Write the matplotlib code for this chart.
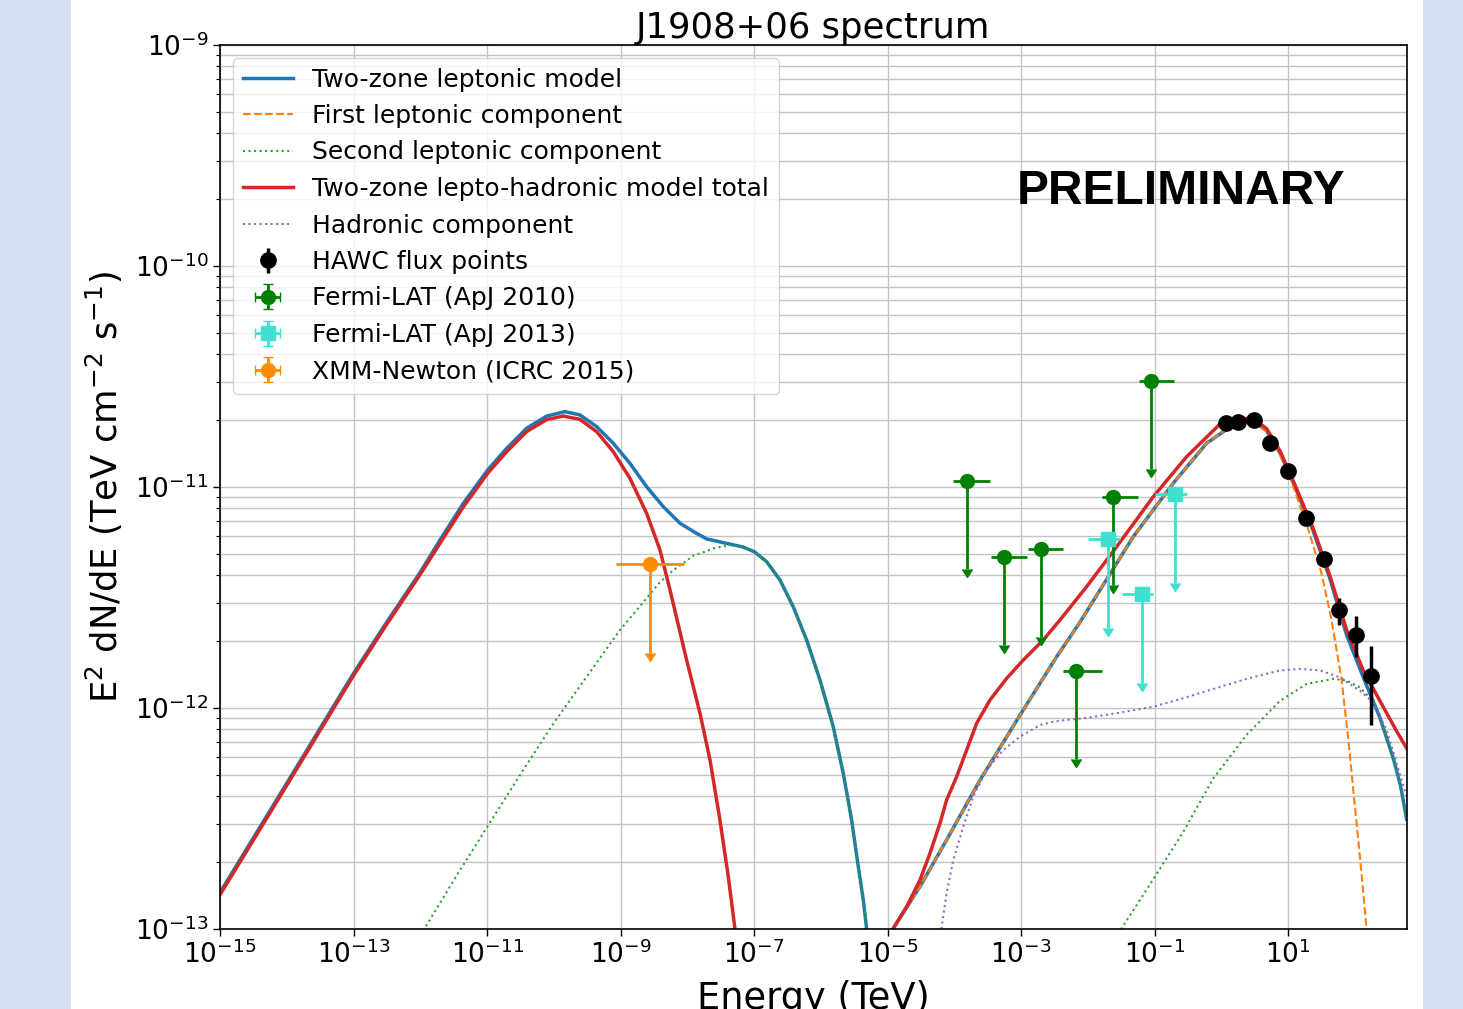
import numpy as np
import matplotlib
matplotlib.use("Agg")
import matplotlib.pyplot as plt
from matplotlib.patches import Rectangle
from matplotlib.ticker import FixedLocator, NullLocator, LogLocator

# ---------------- data (log10 values) ----------------
# Two-zone leptonic model (blue)
blue_low_logE = [-15.0, -14.0, -13.0, -12.5, -12.0, -11.705, -11.356, -10.991, -10.706, -10.407, -10.107,
                 -9.833, -9.608, -9.358, -9.11, -8.86, -8.61, -8.361, -8.111, -7.861, -7.711, -7.412,
                 -7.162, -6.997, -6.813, -6.613, -6.414, -6.214, -6.014, -5.815, -5.665, -5.54,
                 -5.44, -5.365, -5.315, -5.27]
blue_low_logF = [-12.835, -12.34, -11.843, -11.61, -11.385, -11.24, -11.074, -10.923, -10.825, -10.734, -10.679,
                 -10.659, -10.674, -10.727, -10.802, -10.893, -10.999, -11.089, -11.164, -11.21, -11.235, -11.255,
                 -11.272, -11.293, -11.338, -11.421, -11.542, -11.692, -11.873, -12.085, -12.296, -12.507,
                 -12.718, -12.869, -13.0, -13.13]
blue_high_logE = [-5.0, -4.916, -4.516, -4.117, -3.617, -2.993, -2.469, -2.12, -1.322, -0.723, -0.223,
                  0.176, 0.35, 0.472, 0.676, 0.875, 1.075, 1.374, 1.624, 1.874, 2.123, 2.373,
                  2.573, 2.68, 2.773]
blue_high_logF = [-13.04, -12.997, -12.808, -12.597, -12.326, -12.02, -11.768, -11.612, -11.225, -10.983, -10.802,
                  -10.719, -10.700, -10.702, -10.745, -10.845, -10.98, -11.2, -11.415, -11.67, -11.861, -12.044,
                  -12.228, -12.35, -12.503]

# First leptonic component (orange dashed)
first_logE = [-5.0, -4.916, -4.516, -4.117, -3.617, -2.993, -2.469, -2.12, -1.322, -0.723, -0.223,
              0.176, 0.35, 0.472, 0.676, 0.875, 1.048, 1.298, 1.497, 1.647, 1.797, 1.897,
              1.997, 2.097, 2.172, 2.19]
first_logF = [-13.04, -12.997, -12.808, -12.597, -12.326, -12.02, -11.768, -11.612, -11.225, -10.983, -10.802,
              -10.719, -10.700, -10.705, -10.75, -10.855, -10.975, -11.19, -11.39, -11.6, -11.87, -12.136,
              -12.442, -12.748, -13.0, -13.07]

# Second leptonic component (green dotted)
second_low_logE = [-12.0, -11.94, -11.5, -11.015, -10.5, -10.015, -9.5, -9.015, -8.71, -8.51, -8.41,
                   -8.21, -8.06, -7.91, -7.71, -7.61, -7.36, -7.2, -6.997, -6.813, -6.613, -6.414,
                   -6.214, -6.014, -5.815, -5.665, -5.54, -5.44, -5.365, -5.315, -5.27]
second_low_logF = [-13.03, -13.0, -12.78, -12.546, -12.30, -12.074, -11.855, -11.649, -11.54, -11.466, -11.43,
                   -11.376, -11.345, -11.31, -11.29, -11.278, -11.263, -11.27, -11.293, -11.338, -11.421, -11.542,
                   -11.692, -11.873, -12.085, -12.296, -12.507, -12.718, -12.869, -13.0, -13.13]
second_high_logE = [-1.55, -1.496, -0.997, -0.572, -0.123, 0.376, 0.875, 1.274, 1.674, 1.874, 2.073,
                    2.273, 2.373, 2.573, 2.68, 2.773]
second_high_logF = [-13.05, -12.997, -12.763, -12.56, -12.319, -12.121, -11.968, -11.891, -11.868, -11.876, -11.907,
                    -11.968, -12.044, -12.228, -12.35, -12.503]

# Two-zone lepto-hadronic model total (red)
red_low_logE = [-15.0, -14.0, -13.0, -12.5, -12.0, -11.705, -11.356, -10.991, -10.706, -10.407, -10.107,
                -9.858, -9.608, -9.358, -9.11, -8.86, -8.61, -8.41, -8.26, -8.011, -7.811, -7.661,
                -7.512, -7.387, -7.287, -7.26]
red_low_logF = [-12.845, -12.35, -11.853, -11.62, -11.395, -11.255, -11.09, -10.938, -10.84, -10.749, -10.695,
                -10.679, -10.694, -10.75, -10.84, -10.961, -11.119, -11.285, -11.466, -11.783, -12.024, -12.235,
                -12.507, -12.763, -13.0, -13.08]
red_high_logE = [-4.95, -4.916, -4.716, -4.516, -4.367, -4.217, -4.117, -3.967, -3.817, -3.667, -3.468,
                 -3.218, -2.969, -2.669, -2.42, -2.02, -1.57, -1.022, -0.522, -0.023, 0.251, 0.476,
                 0.676, 0.875, 1.075, 1.374, 1.624, 1.874, 2.123, 2.373, 2.623, 2.773]
red_high_logF = [-13.02, -12.997, -12.899, -12.778, -12.658, -12.522, -12.416, -12.311, -12.19, -12.069, -11.964,
                 -11.866, -11.783, -11.692, -11.602, -11.451, -11.27, -11.044, -10.863, -10.715, -10.69, -10.69,
                 -10.736, -10.836, -10.973, -11.188, -11.402, -11.647, -11.83, -11.968, -12.105, -12.182]

# Hadronic component (purple dotted)
had_logE = [-4.21, -4.192, -4.117, -4.017, -3.868, -3.718, -3.518, -3.268, -3.019, -2.719, -2.52,
            -2.32, -2.07, -1.5, -1.022, -0.622, -0.123, 0.376, 0.875, 1.174, 1.474, 1.773,
            2.073, 2.273, 2.473, 2.773]
had_logF = [-13.05, -12.99, -12.838, -12.688, -12.537, -12.401, -12.281, -12.19, -12.13, -12.077, -12.062,
            -12.054, -12.047, -12.02, -11.994, -11.96, -11.914, -11.868, -11.83, -11.823, -11.83, -11.861,
            -11.922, -11.975, -12.1, -12.4]

# HAWC flux points
hawc_E = [1.17, 1.78, 3.06, 5.32, 9.98, 18.4, 34.3, 58.1, 103.0, 173.0]
hawc_F = [1.95e-11, 1.97e-11, 2.00e-11, 1.58e-11, 1.18e-11, 7.21e-12, 4.73e-12, 2.77e-12, 2.13e-12, 1.39e-12]
hawc_err_lo = [0.4e-12, 0.35e-12, 0.35e-12, 0.3e-12, 0.25e-12, 0.2e-12, 0.2e-12, 0.39e-12, 0.43e-12, 0.55e-12]
hawc_err_hi = [0.4e-12, 0.35e-12, 0.35e-12, 0.3e-12, 0.25e-12, 0.2e-12, 0.2e-12, 0.39e-12, 0.47e-12, 0.51e-12]

# Fermi-LAT (ApJ 2010) upper limits
f10_logE = [-3.817, -3.258, -2.709, -2.172, -1.621, -1.061]
f10_logElo = [-4.017, -3.458, -2.903, -2.37, -1.795, -1.236]
f10_logEhi = [-3.468, -2.909, -2.371, -1.795, -1.25, -0.712]
f10_logF = [-10.973, -11.315, -11.281, -11.833, -11.044, -10.52]
f10_logFlim = [-11.371, -11.715, -11.677, -12.232, -11.443, -10.92]

# Fermi-LAT (ApJ 2013) upper limits
f13_logE = [-1.696, -1.198, -0.699]
f13_logElo = [-1.997, -1.496, -0.997]
f13_logEhi = [-1.522, -1.022, -0.522]
f13_logF = [-11.235, -11.484, -11.033]
f13_logFlim = [-11.64, -11.886, -11.433]

# XMM-Newton (ICRC 2015) upper limit
xmm_logE = [-8.560]
xmm_logElo = [-9.069]
xmm_logEhi = [-8.051]
xmm_logF = [-11.348]
xmm_logFlim = [-11.752]

xtick_exponents = [-15, -13, -11, -9, -7, -5, -3, -1, 1]


def p10(v):
    return 10.0 ** np.asarray(v, dtype=float)


# ---------------- figure ----------------
plt.rcParams['font.family'] = ['DejaVu Sans']
plt.rcParams['mathtext.fontset'] = 'dejavusans'
plt.rcParams['lines.markersize'] = 7.5

W, H = 1463, 1009
fig = plt.figure(figsize=(W / 100, H / 100), dpi=100, facecolor='#d4dff0')
fig.patches.append(Rectangle((71 / W, 0), (1423 - 71) / W, 1, transform=fig.transFigure,
                             facecolor='white', edgecolor='none', zorder=-10))
ax = fig.add_axes([220 / W, 1 - 929 / H, 1187 / W, 884 / H])

c_blue, c_orange, c_green, c_red, c_purple = '#1f77b4', '#ff7f0e', '#2ca02c', '#d62728', '#9467bd'

ax.plot(p10(blue_low_logE), p10(blue_low_logF), color=c_blue, lw=2.5, label='Two-zone leptonic model')
ax.plot(p10(blue_high_logE), p10(blue_high_logF), color=c_blue, lw=2.5)
ax.plot(p10(first_logE), p10(first_logF), color=c_orange, lw=1.5, ls='--', label='First leptonic component')
ax.plot(p10(second_low_logE), p10(second_low_logF), color=c_green, lw=1.5, ls=':',
        label='Second leptonic component')
ax.plot(p10(second_high_logE), p10(second_high_logF), color=c_green, lw=1.5, ls=':')
ax.plot(p10(red_low_logE), p10(red_low_logF), color=c_red, lw=2.5, label='Two-zone lepto-hadronic model total')
ax.plot(p10(red_high_logE), p10(red_high_logF), color=c_red, lw=2.5)
ax.plot(p10(had_logE), p10(had_logF), color=c_purple, lw=1.5, ls=':', label='Hadronic component')

ax.errorbar(hawc_E, hawc_F, yerr=[hawc_err_lo, hawc_err_hi], fmt='o', color='black', markersize=11,
            elinewidth=2.5, label='HAWC flux points')


def ul(logE, logElo, logEhi, logF, logFlim, fmt, color, ms, label):
    E, F = p10(logE), p10(logF)
    xerr = [E - p10(logElo), p10(logEhi) - E]
    yerr = F - p10(logFlim)
    ax.errorbar(E, F, xerr=xerr, yerr=yerr, uplims=True, fmt=fmt, color=color, markersize=ms,
                elinewidth=2, label=label)


ul(f10_logE, f10_logElo, f10_logEhi, f10_logF, f10_logFlim, 'o', 'green', 10, 'Fermi-LAT (ApJ 2010)')
ul(f13_logE, f13_logElo, f13_logEhi, f13_logF, f13_logFlim, 's', 'turquoise', 10, 'Fermi-LAT (ApJ 2013)')
ul(xmm_logE, xmm_logElo, xmm_logEhi, xmm_logF, xmm_logFlim, 'o', 'darkorange', 10, 'XMM-Newton (ICRC 2015)')

ax.set_xscale('log')
ax.set_yscale('log')
ax.set_xlim(1e-15, 6e2)
ax.set_ylim(1e-13, 1e-9)
ax.xaxis.set_major_locator(FixedLocator(p10(xtick_exponents)))
ax.xaxis.set_minor_locator(NullLocator())
ax.yaxis.set_major_locator(LogLocator(base=10))
ax.yaxis.set_minor_locator(LogLocator(base=10, subs=np.arange(2, 10)))

ax.grid(True, which='major', color='#c4c4c4', lw=1.0)
ax.grid(True, which='minor', axis='y', color='#c4c4c4', lw=1.0)
ax.set_axisbelow(True)
ax.tick_params(axis='both', which='major', labelsize=19, length=5, width=1.0)
ax.tick_params(axis='y', which='minor', length=3, width=0.8)
for s in ax.spines.values():
    s.set_linewidth(1.2)

ax.set_title('J1908+06 spectrum', fontsize=25.5, pad=5)
ax.set_xlabel('Energy (TeV)', fontsize=26.5, labelpad=8)
ax.set_ylabel('E$^2$ dN/dE (TeV cm$^{-2}$ s$^{-1}$)', fontsize=25.5, labelpad=7)

ax.text(0.81, 0.834, 'PRELIMINARY', transform=ax.transAxes, fontsize=34.5, fontweight='bold',
        family=['Liberation Sans', 'DejaVu Sans'], ha='center', va='center')

ax.legend(loc='upper left', fontsize=18)

fig.savefig('out.png', dpi=100, facecolor=fig.get_facecolor())
